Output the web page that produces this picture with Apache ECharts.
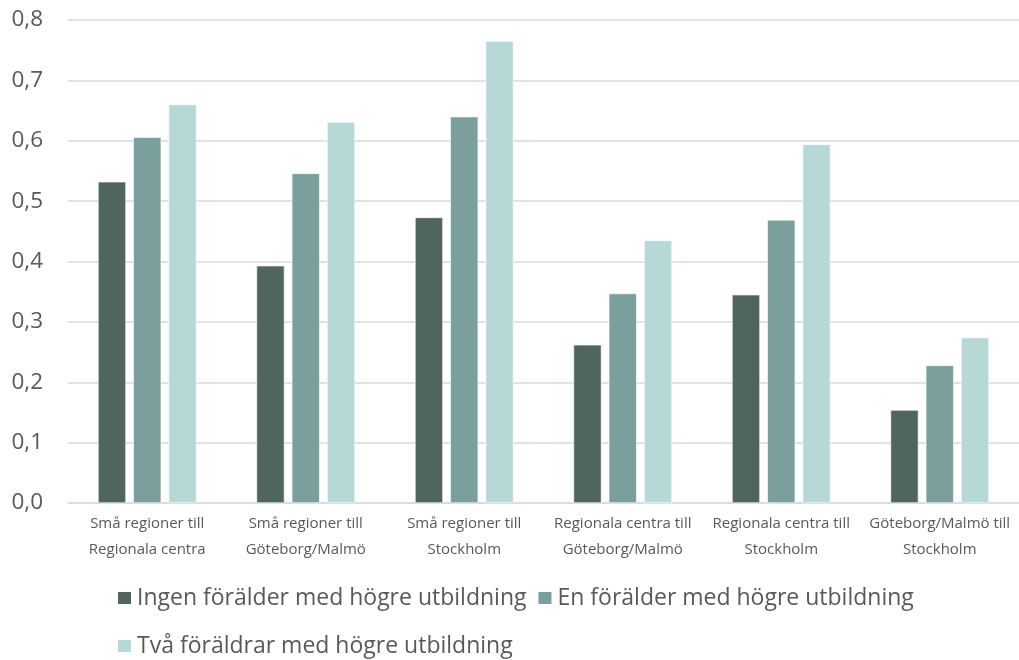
<!DOCTYPE html>
<html>
<head>
<meta charset="utf-8">
<script src="https://cdn.jsdelivr.net/npm/echarts@6/dist/echarts.min.js"></script>
<style>
  html, body { margin: 0; padding: 0; background: #fff; }
  #main { width: 1019px; height: 660px; }
</style>
</head>
<body>
<div id="main"></div>
<script>
  // kategorier (x-axeln)
  const categories = [
    'Små regioner till\nRegionala centra',
    'Små regioner till\nGöteborg/Malmö',
    'Små regioner till\nStockholm',
    'Regionala centra till\nGöteborg/Malmö',
    'Regionala centra till\nStockholm',
    'Göteborg/Malmö till\nStockholm'
  ];
  const seriesNames = [
    'Ingen förälder med högre utbildning',
    'En förälder med högre utbildning',
    'Två föräldrar med högre utbildning'
  ];
  const ingen = [0.532, 0.393, 0.473, 0.262, 0.345, 0.154];
  const en = [0.606, 0.546, 0.640, 0.347, 0.469, 0.228];
  const tva = [0.660, 0.631, 0.765, 0.435, 0.594, 0.274];
  const yTicks = [0, 0.1, 0.2, 0.3, 0.4, 0.5, 0.6, 0.7, 0.8];

  const colors = ['#506560', '#7a9f9d', '#b6d9d7'];
  const font = '"Open Sans", "Noto Sans", sans-serif';

  let myChart = echarts.init(document.getElementById('main'));

  function bar(name, data, color) {
    return {
      name: name,
      type: 'bar',
      data: data,
      barWidth: 28,
      barGap: '26%',
      itemStyle: { color: color, borderColor: '#ffffff', borderWidth: 0.6 }
    };
  }

  let option = {
    animation: false,
    textStyle: { fontFamily: font },
    grid: { left: 68, right: 0, top: 20, bottom: 157 },
    legend: {
      data: seriesNames,
      left: 111,
      top: 574,
      width: 850,
      itemWidth: 15,
      itemHeight: 14,
      itemGap: 10,
      icon: 'rect',
      textStyle: {
        fontFamily: font,
        fontSize: 23,
        color: '#595959',
        lineHeight: 38
      }
    },
    xAxis: {
      type: 'category',
      data: categories,
      axisLine: { lineStyle: { color: '#d9d9d9', width: 1.5 } },
      axisTick: { show: false },
      axisLabel: {
        interval: 0,
        color: '#595959',
        fontSize: 15,
        lineHeight: 26,
        margin: 8
      }
    },
    yAxis: {
      type: 'value',
      min: yTicks[0],
      max: yTicks[yTicks.length - 1],
      interval: 0.1,
      axisLine: { show: false },
      axisTick: { show: false },
      splitLine: { lineStyle: { color: '#d9d9d9', width: 1.5 } },
      axisLabel: {
        color: '#595959',
        fontSize: 22.5,
        margin: 25,
        formatter: function (v) { return v.toFixed(1).replace('.', ','); }
      }
    },
    series: [
      bar(seriesNames[0], ingen, colors[0]),
      bar(seriesNames[1], en, colors[1]),
      bar(seriesNames[2], tva, colors[2])
    ]
  };

  myChart.setOption(option);
</script>
</body>
</html>
